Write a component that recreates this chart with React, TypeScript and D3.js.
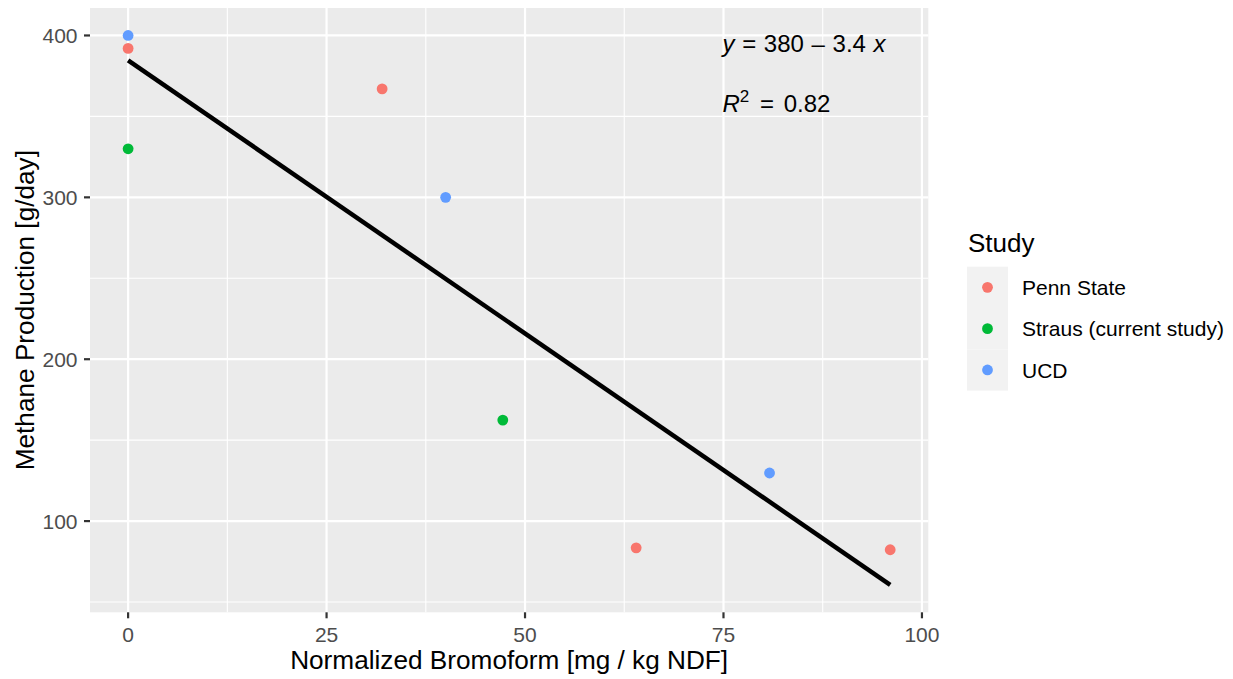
import React from "react";
import * as d3 from "d3";

const studies = ["Penn State", "Straus (current study)", "UCD"];
const studyColors = ["#F8766D", "#00BA38", "#619CFF"];

const pennX = [0, 32, 64, 96];
const pennY = [392, 367, 83.5, 82.3];
const strausX = [0, 47.2];
const strausY = [330, 162.4];
const ucdX = [0, 40, 80.8];
const ucdY = [400, 300, 129.7];

const xTicks = [0, 25, 50, 75, 100];
const xMinor = [12.5, 37.5, 62.5, 87.5];
const yTicks = [100, 200, 300, 400];
const yMinor = [50, 150, 250, 350];

const eqText = "y = 380 \u2013 3.4 x";
const r2Value = "0.82";
const xTitle = "Normalized Bromoform [mg / kg NDF]";
const yTitle = "Methane Production [g/day]";
const legendTitle = "Study";

const FONT = "'Liberation Sans', Arial, Helvetica, sans-serif";

export default function App() {
  const groups = [
    { name: studies[0], color: studyColors[0], xs: pennX, ys: pennY },
    { name: studies[1], color: studyColors[1], xs: strausX, ys: strausY },
    { name: studies[2], color: studyColors[2], xs: ucdX, ys: ucdY },
  ];
  const pts = groups.flatMap((g) =>
    g.xs.map((x, i) => ({ x, y: g.ys[i], color: g.color }))
  );

  // least squares fit
  const mx = d3.mean(pts, (p) => p.x)!;
  const my = d3.mean(pts, (p) => p.y)!;
  const sxy = d3.sum(pts, (p) => (p.x - mx) * (p.y - my));
  const sxx = d3.sum(pts, (p) => (p.x - mx) ** 2);
  const slope = sxy / sxx;
  const intercept = my - slope * mx;
  const [x0, x1] = d3.extent(pts, (p) => p.x) as [number, number];
  const fit = [x0, x1].map((x) => ({ x, y: intercept + slope * x }));

  const yVals = pts.map((p) => p.y).concat(fit.map((f) => f.y));
  const yLo = d3.min(yVals)!;
  const yHi = d3.max(yVals)!;
  const xPad = (x1 - x0) * 0.05;
  const yPad = (yHi - yLo) * 0.05;

  const left = 90, right = 928.3, top = 8, bottom = 612.3;
  const x = d3.scaleLinear().domain([x0 - xPad, x1 + xPad]).range([left, right]);
  const y = d3.scaleLinear().domain([yLo - yPad, yHi + yPad]).range([bottom, top]);

  const line = d3
    .line<{ x: number; y: number }>()
    .x((d) => x(d.x))
    .y((d) => y(d.y));

  const legX = 967, legY = 266.7, keyH = 41.3;

  return (
    <div style={{ position: "fixed", left: 0, top: 0 }}>
      <svg width={1233} height={679} style={{ display: "block", fontFamily: FONT }}>
        <rect x={0} y={0} width={1233} height={679} fill="#ffffff" />
        <rect x={left} y={top} width={right - left} height={bottom - top} fill="#ebebeb" />
        {xMinor.map((t) => (
          <line key={"xm" + t} x1={x(t)} x2={x(t)} y1={top} y2={bottom} stroke="#ffffff" strokeWidth={1.1} />
        ))}
        {yMinor.map((t) => (
          <line key={"ym" + t} x1={left} x2={right} y1={y(t)} y2={y(t)} stroke="#ffffff" strokeWidth={1.1} />
        ))}
        {xTicks.map((t) => (
          <line key={"xM" + t} x1={x(t)} x2={x(t)} y1={top} y2={bottom} stroke="#ffffff" strokeWidth={2.2} />
        ))}
        {yTicks.map((t) => (
          <line key={"yM" + t} x1={left} x2={right} y1={y(t)} y2={y(t)} stroke="#ffffff" strokeWidth={2.2} />
        ))}
        <path d={line(fit) || ""} stroke="#000000" strokeWidth={4.5} fill="none" />
        {pts.map((p, i) => (
          <circle key={i} cx={x(p.x)} cy={y(p.y)} r={5.4} fill={p.color} />
        ))}
        {/* axes ticks */}
        {xTicks.map((t) => (
          <g key={"xt" + t}>
            <line x1={x(t)} x2={x(t)} y1={bottom} y2={bottom + 6} stroke="#333333" strokeWidth={2.2} />
            <text x={x(t)} y={642} textAnchor="middle" fontSize={21} fill="#4d4d4d">
              {t}
            </text>
          </g>
        ))}
        {yTicks.map((t) => (
          <g key={"yt" + t}>
            <line x1={left - 6} x2={left} y1={y(t)} y2={y(t)} stroke="#333333" strokeWidth={2.2} />
            <text x={left - 12.5} y={y(t)} dy="0.36em" textAnchor="end" fontSize={21} fill="#4d4d4d">
              {t}
            </text>
          </g>
        ))}
        <text x={(left + right) / 2} y={669} textAnchor="middle" fontSize={26.2} fill="#000000">
          {xTitle}
        </text>
        <text
          transform={`translate(34,${(top + bottom) / 2}) rotate(-90)`}
          textAnchor="middle"
          fontSize={26.2}
          fill="#000000"
        >
          {yTitle}
        </text>
        {/* equation annotation */}
        <text x={x(75) - 1} y={y(400) + 17} fontSize={24} fill="#000000" style={{ wordSpacing: "1px" }}>
          <tspan fontStyle="italic">y</tspan>
          {eqText.slice(1, -1)}
          <tspan fontStyle="italic">x</tspan>
        </text>
        <text x={x(75) - 1} y={y(400) + 77} fontSize={24} fill="#000000" style={{ wordSpacing: "3px" }}>
          <tspan fontStyle="italic">R</tspan>
          <tspan fontSize={17} dy={-10.5}>2</tspan>
          <tspan dy={10.5} dx={1}>{" = " + r2Value}</tspan>
        </text>
        {/* legend */}
        <text x={968} y={252} fontSize={26} fill="#000000">
          {legendTitle}
        </text>
        {groups.map((g, i) => (
          <g key={g.name}>
            <rect x={legX} y={legY + i * keyH} width={41} height={keyH} fill="#f2f2f2" />
            <circle cx={legX + 20.5} cy={legY + i * keyH + keyH / 2} r={5.4} fill={g.color} />
            <text x={1022} y={legY + i * keyH + keyH / 2} dy="0.36em" fontSize={21} fill="#000000">
              {g.name}
            </text>
          </g>
        ))}
      </svg>
    </div>
  );
}
